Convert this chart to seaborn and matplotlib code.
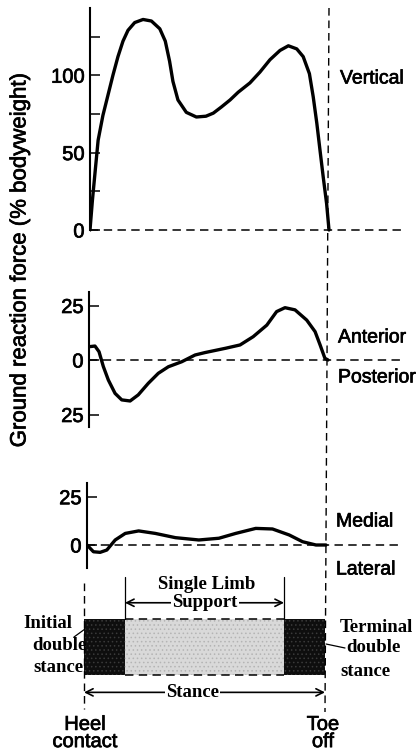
import numpy as np
import pandas as pd
import matplotlib
matplotlib.use("Agg")
import matplotlib.pyplot as plt
import matplotlib.patheffects as pe
import seaborn as sns
from matplotlib.lines import Line2D

# ---------------- data (percent of stance vs % bodyweight) ----------------
vert_x = [0, 1.0, 2.1, 3.4, 5.4, 7.5, 9.6, 11.7, 13.8, 15.9, 18.7, 22.2, 25.7, 29.2,
          31.5, 33.3, 34.7, 36.8, 40.3, 44.5, 48.5, 51.6, 55, 58.6, 62, 66.9, 71.1,
          75.3, 79.5, 83, 86.5, 89.2, 91.8, 93.4, 94.9, 96.2, 97.6, 99, 100]
vert_y = [0, 19, 37, 58, 74, 87, 100, 112, 122, 129, 134, 136, 135, 130,
          122, 109, 96, 84, 76, 73, 73.5, 75.5, 79.5, 84, 89, 95, 102,
          110, 116, 119, 117, 112, 101, 86, 69, 52, 34, 17, 0]

ap_x = [0, 2.5, 4.2, 6.0, 8.1, 10.9, 13.7, 17.2, 20.6, 24.8, 29, 33.2, 38.8, 44.4,
        48.5, 57.2, 63.2, 68.7, 74.4, 78.5, 82, 86.2, 91.1, 94.6, 96.7, 98.7, 100]
ap_y = [6.1, 6.4, 3.8, -3, -9.2, -15.3, -18.3, -18.8, -16, -10.7, -6.1, -3.1, -0.8, 2.3,
        3.4, 5.4, 6.9, 10.7, 16, 22.2, 24, 23, 18.3, 13, 6.9, 0.8, 0]

ml_x = [0, 2.7, 5.5, 8.3, 11.8, 16, 21.6, 28.6, 37, 46.8, 55.2, 62.2, 70.6, 77.6,
        84.6, 90.2, 95.8, 100]
ml_y = [0, -3.5, -3.8, -2.6, 2.6, 6, 7.3, 6, 3.8, 2.6, 3.5, 6, 8.6, 8.3,
        5.2, 1.7, 0, 0]

phase_names = ["Initial double stance", "Single Limb Support", "Terminal double stance"]
phase_start = [0, 17, 83]
phase_end = [17, 83, 100]

vert_major = [0, 50, 100]
vert_minor = [25, 75, 125]
ap_ticks = [-25, 0, 25]
ap_labels = ["25", "0", "25"]
ml_ticks = [0, 25]

# ---------------- figure ----------------
W, H = 418, 756
sns.set_theme(style="white")
plt.rcParams["font.family"] = ["Liberation Sans", "DejaVu Sans"]
fig = plt.figure(figsize=(W / 100, H / 100), dpi=100)

THICK = [pe.withStroke(linewidth=0.5, foreground="black")]


def rect(l, t, r, b):
    return [l / W, 1 - b / H, (r - l) / W, (b - t) / H]


PX = 2.39  # pixels per % stance
DASH = (0, (5.5, 3.5))


def panel(left, top, bottom, zero_px, ppu, sp_top, sp_bot, right=403):
    ax = fig.add_axes(rect(left, top, right, bottom))
    ax.set_xlim(0, (right - left) / PX)
    ax.set_ylim((zero_px - bottom) / ppu, (zero_px - top) / ppu)
    ax.patch.set_alpha(0)
    for s in ["top", "right", "bottom"]:
        ax.spines[s].set_visible(False)
    ax.spines["left"].set_bounds((zero_px - sp_bot) / ppu, (zero_px - sp_top) / ppu)
    ax.spines["left"].set_linewidth(1.5)
    ax.spines["left"].set_color("black")
    ax.set_xticks([])
    ax.axhline(0, color="black", lw=1.1, ls=DASH, zorder=1)
    ax.tick_params(axis="y", which="both", direction="in", length=7, width=1.1,
                   color="black", labelsize=14.5, pad=4, left=True, labelcolor="black")
    return ax


def curve(ax, xs, ys):
    df = pd.DataFrame({"stance": xs, "force": ys})
    sns.lineplot(data=df, x="stance", y="force", ax=ax, color="black", linewidth=2.4,
                 sort=False, estimator=None, zorder=3)
    ax.set_xlabel("")
    ax.set_ylabel("")
    ax.lines[-1].set_solid_joinstyle("round")
    ax.lines[-1].set_solid_capstyle("round")
    for t in ax.get_yticklabels():
        t.set_path_effects(THICK)


# Vertical
ax1 = panel(90, 4, 236, 230, 1.548, 8, 230)
ax1.set_yticks(vert_major)
ax1.set_yticks(vert_minor, minor=True)
curve(ax1, vert_x, vert_y)

# Anterior / posterior
ax2 = panel(89, 285, 435, 360, 2.18, 292, 427)
ax2.set_yticks(ap_ticks)
ax2.set_yticklabels(ap_labels)
curve(ax2, ap_x, ap_y)

# Medial / lateral
ax3 = panel(87, 475, 580, 545, 1.93, 483, 568, right=401)
ax3.set_yticks(ml_ticks)
curve(ax3, ml_x, ml_y)

# ---------------- gait phase bar ----------------
bx = fig.add_axes(rect(84, 619, 325, 675))
bx.set_xlim(0, 100)
bx.set_ylim(0, 1)
bx.axis("off")
bx.patch.set_alpha(0)
plt.rcParams["hatch.linewidth"] = 0.6
fills = ["#0e0e0e", "#d9d9d9", "#0e0e0e"]
hcols = ["#3a3a3a", "#b4b4b4", "#3a3a3a"]
widths = np.subtract(phase_end, phase_start)
for s, w, fc, hc in zip(phase_start, widths, fills, hcols):
    bx.barh(0.5, w, left=s, height=1, color=fc, edgecolor=hc, hatch="....", linewidth=0)
bx.plot([phase_start[1], phase_end[1]], [1, 1], color="black", lw=1.1, ls=DASH, clip_on=False)
bx.plot([phase_start[1], phase_end[1]], [0, 0], color="black", lw=1.1, ls=DASH, clip_on=False)

serif = dict(family=["Liberation Serif", "DejaVu Serif"], fontweight="bold", fontsize=13.5)
# single limb support markers
for xb in (phase_start[1], phase_end[1]):
    bx.plot([xb, xb], [1.0, 1.75], color="black", lw=0.9, clip_on=False)
bx.annotate("", xy=(phase_start[1], 1.29), xytext=(phase_end[1], 1.29),
            arrowprops=dict(arrowstyle="<->", lw=1.2, color="black", shrinkA=0, shrinkB=0,
                            mutation_scale=13), annotation_clip=False)
bx.text(50, 1.29, "Support", ha="center", va="center", color="black",
        bbox=dict(facecolor="white", edgecolor="none", pad=1.0), **serif)
bx.text(51, 1.62, "Single Limb", ha="center", va="center", color="black", **serif)
# stance arrow
bx.annotate("", xy=(phase_start[0], -0.31), xytext=(phase_end[2], -0.31),
            arrowprops=dict(arrowstyle="<->", lw=1.2, color="black", shrinkA=0, shrinkB=0,
                            mutation_scale=13), annotation_clip=False)
bx.text(45, -0.31, "Stance", ha="center", va="center", color="black",
        bbox=dict(facecolor="white", edgecolor="none", pad=1.0), **serif)
# heel contact line
bx.plot([0, 0], [1.64, -0.6], color="black", lw=1.0, ls=DASH, clip_on=False)

# ---------------- overlay for annotations ----------------
ov = fig.add_axes([0, 0, 1, 1])
ov.set_xlim(0, W)
ov.set_ylim(H, 0)
ov.axis("off")
ov.patch.set_alpha(0)

ov.add_line(Line2D([329, 325], [8, 712], color="black", lw=1.0, ls=DASH))

lab = dict(fontsize=14, color="black", va="center", ha="left", path_effects=THICK)
ov.text(340, 79, "Vertical", **lab)
ov.text(338, 338, "Anterior", **lab)
ov.text(338, 378, "Posterior", **lab)
ov.text(336, 522, "Medial", **lab)
ov.text(336, 570, "Lateral", **lab)

ov.text(20, 260, "Ground reaction force (% bodyweight)", rotation=90, fontsize=16,
        ha="center", va="center", color="black", path_effects=THICK)

ov.text(85, 733, "Heel\ncontact", ha="center", va="center", fontsize=14.5,
        linespacing=0.88, color="black", path_effects=THICK)
ov.text(323, 733, "Toe\noff", ha="center", va="center", fontsize=14.5,
        linespacing=0.88, color="black", path_effects=THICK)

ov.text(23, 623, "Initial", ha="left", va="center", color="black", **serif)
ov.text(32, 645, "double", ha="left", va="center", color="black", **serif)
ov.text(33, 667, "stance", ha="left", va="center", color="black", **serif)
ov.add_line(Line2D([74, 85], [637, 629], color="black", lw=0.9))

ov.text(340, 627, "Terminal", ha="left", va="center", color="black", **serif)
ov.text(346, 648, "double", ha="left", va="center", color="black", **serif)
ov.text(340, 671, "stance", ha="left", va="center", color="black", **serif)
ov.add_line(Line2D([326, 644 - 318], [644, 644], color="black", lw=0.0))
ov.add_line(Line2D([326, 345], [644, 648], color="black", lw=0.9))

fig.savefig("out.png", dpi=100, facecolor="white")
